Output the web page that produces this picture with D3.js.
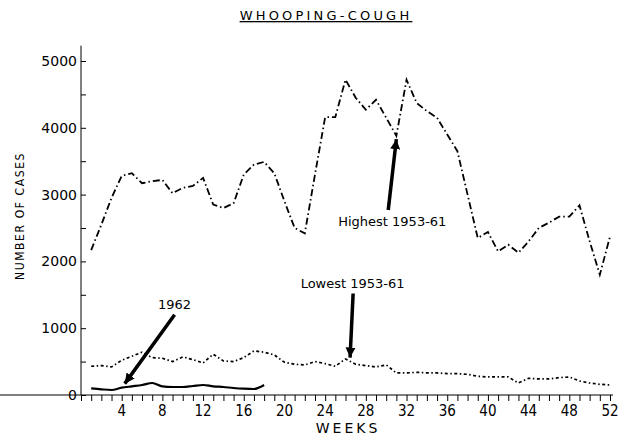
<!DOCTYPE html>
<html>
<head>
<meta charset="utf-8">
<script src="https://cdn.jsdelivr.net/npm/d3@7"></script>
<style>
  body { margin: 0; background: white; }
  text { fill: black; }
</style>
</head>
<body>
<div id="container"></div>
<script>
// weeks 1..52
let weeks = d3.range(1, 53);

// highest weekly count 1953-61
let highest = [2170, 2550, 2950, 3280, 3320, 3170, 3200, 3220, 3020, 3100,
  3130, 3250, 2850, 2800, 2870, 3300, 3450, 3490, 3320, 2900,
  2500, 2420, 3300, 4160, 4160, 4720, 4450, 4270, 4420, 4150,
  3880, 4720, 4370, 4250, 4150, 3900, 3650, 3000, 2350, 2440,
  2150, 2250, 2130, 2300, 2500, 2580, 2670, 2670, 2840, 2300,
  1800, 2370];

// lowest weekly count 1953-61
let lowest = [430, 440, 420, 520, 580, 640, 560, 550, 500, 570,
  530, 480, 610, 510, 500, 560, 660, 640, 600, 490,
  460, 450, 500, 470, 430, 540, 460, 440, 420, 450,
  330, 330, 340, 330, 330, 320, 320, 310, 280, 270,
  270, 270, 180, 250, 240, 240, 260, 270, 210, 180,
  160, 150];

// 1962, first 18 weeks only
let y1962 = [100, 85, 75, 110, 130, 150, 180, 130, 120, 120,
  135, 150, 130, 120, 105, 95, 90, 150];

let xTicks = [4, 8, 12, 16, 20, 24, 28, 32, 36, 40, 44, 48, 52];
let yTicks = [0, 1000, 2000, 3000, 4000, 5000];

// annotations: [text, text week, text value, tail week, tail value, tip week, tip value]
let notes = [
  ["Highest 1953-61", 30.6, 2530, 30.2, 2770, 31.0, 3830],
  ["Lowest 1953-61", 26.7, 1600, 26.75, 1520, 26.45, 560],
  ["1962", 9.2, 1280, 9.2, 1200, 4.3, 170]
];

let viz = d3.select("#container")
  .append("svg")
    .attr("width", 624)
    .attr("height", 437)
  ;

let x = d3.scaleLinear().domain([0, 52]).range([81, 610]);
let y = d3.scaleLinear().domain([0, 5000]).range([395, 61]);

// arrow head
viz.append("defs")
  .append("marker")
    .attr("id", "head")
    .attr("markerUnits", "userSpaceOnUse")
    .attr("markerWidth", 12)
    .attr("markerHeight", 12)
    .attr("refX", 10)
    .attr("refY", 5)
    .attr("orient", "auto")
  .append("path")
    .attr("d", "M0,0 L10,5 L0,10 z")
    .attr("fill", "black")
  ;

// title
viz.append("text")
    .attr("x", 326)
    .attr("y", 20)
    .attr("text-anchor", "middle")
    .attr("font-family", "DejaVu Sans")
    .attr("font-size", 13)
    .attr("letter-spacing", 3.2)
    .attr("text-decoration", "underline")
    .text("WHOOPING-COUGH")
  ;

// y axis
let yAxis = d3.axisRight(y)
  .tickValues(d3.range(0, 5001, 500))
  .tickSize(5)
  .tickFormat("");
viz.append("g")
    .attr("transform", "translate(" + x(0) + ",0)")
    .call(yAxis)
    .call(g => g.select(".domain").attr("d", "M0," + y(5230) + "V" + y(0)))
  ;

viz.append("g")
  .selectAll("text")
  .data(yTicks)
  .enter()
  .append("text")
    .attr("x", x(0) - 4)
    .attr("y", d => y(d) + 5)
    .attr("text-anchor", "end")
    .attr("font-family", "DejaVu Sans")
    .attr("font-size", 14)
    .text(d => d)
  ;

viz.append("text")
    .attr("transform", "translate(24,216) rotate(-90)")
    .attr("text-anchor", "middle")
    .attr("font-family", "DejaVu Sans Condensed")
    .attr("font-size", 12)
    .attr("letter-spacing", 1.6)
    .text("NUMBER OF CASES")
  ;

// x axis, a tick every week
let xAxis = d3.axisBottom(x)
  .tickValues(d3.range(0, 53))
  .tickSize(6)
  .tickFormat("");
viz.append("g")
    .attr("transform", "translate(0," + y(0) + ")")
    .call(xAxis)
    .call(g => g.select(".domain").attr("d", "M0,0H" + (x(52) + 3)))
  ;

viz.append("g")
  .selectAll("text")
  .data(xTicks)
  .enter()
  .append("text")
    .attr("x", d => x(d))
    .attr("y", 416)
    .attr("text-anchor", "middle")
    .attr("font-family", "DejaVu Sans Condensed")
    .attr("font-size", 15)
    .text(d => d)
  ;

viz.append("text")
    .attr("x", 348)
    .attr("y", 433)
    .attr("text-anchor", "middle")
    .attr("font-family", "DejaVu Sans")
    .attr("font-size", 14)
    .attr("letter-spacing", 3)
    .text("WEEKS")
  ;

// lines
let line = d3.line()
  .x((d, i) => x(weeks[i]))
  .y(d => y(d));

viz.append("path")
    .datum(highest)
    .attr("d", line)
    .attr("fill", "none")
    .attr("stroke", "black")
    .attr("stroke-width", 1.8)
    .attr("stroke-dasharray", "7,3,1.5,3")
  ;

viz.append("path")
    .datum(lowest)
    .attr("d", line)
    .attr("fill", "none")
    .attr("stroke", "black")
    .attr("stroke-width", 1.7)
    .attr("stroke-dasharray", "3,2.5,1.5,2.5")
  ;

viz.append("path")
    .datum(y1962)
    .attr("d", d3.line().curve(d3.curveMonotoneX).x((d, i) => x(weeks[i])).y(d => y(d)))
    .attr("fill", "none")
    .attr("stroke", "black")
    .attr("stroke-width", 2.2)
  ;

// annotation arrows and labels
let noteGroups = viz.selectAll(".note").data(notes).enter()
  .append("g")
    .attr("class", "note")
  ;

noteGroups
  .append("line")
    .attr("x1", d => x(d[3]))
    .attr("y1", d => y(d[4]))
    .attr("x2", d => x(d[5]))
    .attr("y2", d => y(d[6]))
    .attr("stroke", "black")
    .attr("stroke-width", 3.5)
    .attr("marker-end", "url(#head)")
  ;

noteGroups
  .append("text")
    .attr("x", d => x(d[1]))
    .attr("y", d => y(d[2]))
    .attr("text-anchor", "middle")
    .attr("font-family", "DejaVu Sans")
    .attr("font-size", 13)
    .text(d => d[0])
  ;
</script>
</body>
</html>
